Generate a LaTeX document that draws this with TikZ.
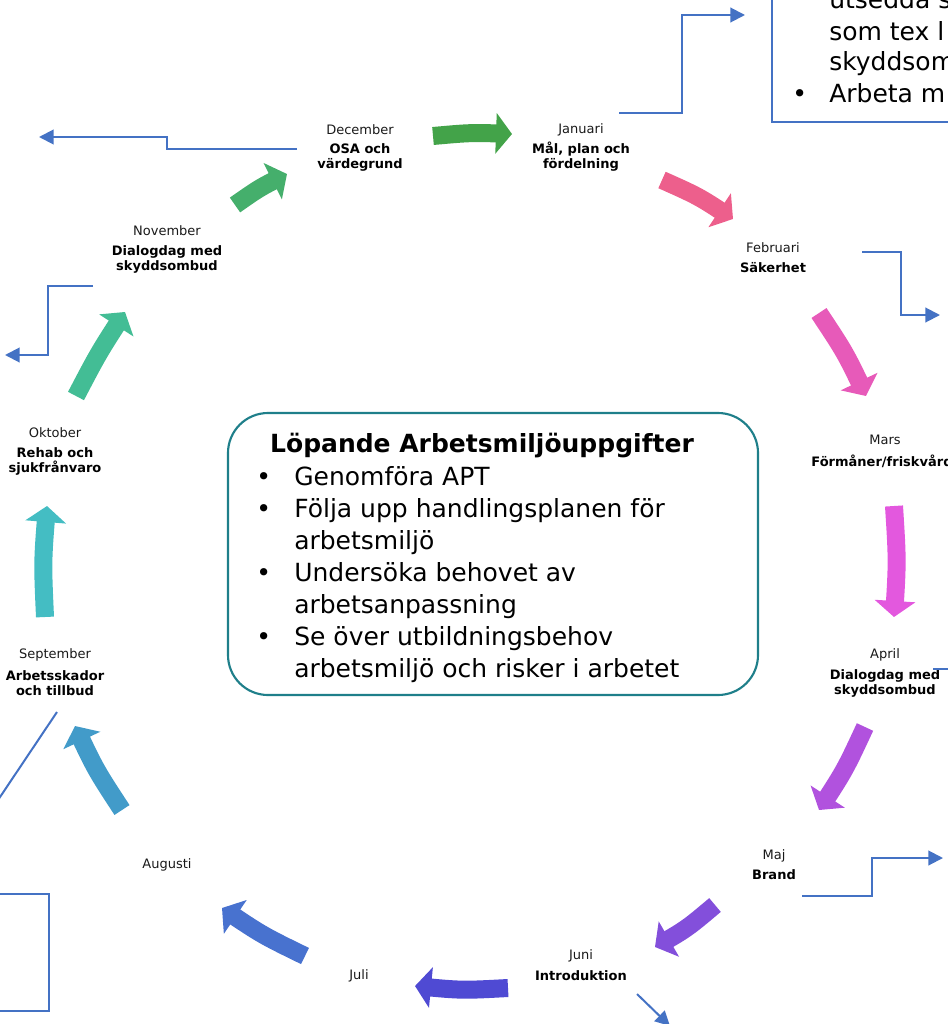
\documentclass[tikz,border=0pt]{standalone}
\usepackage{fontspec}
\setmainfont{DejaVu Sans}
\usetikzlibrary{arrows.meta,bending}
\definecolor{cDJ}{HTML}{43A349}
\definecolor{cND}{HTML}{45AF6C}
\definecolor{cON}{HTML}{43BD95}
\definecolor{cSO}{HTML}{44BDC3}
\definecolor{cAS}{HTML}{429BC9}
\definecolor{cJA}{HTML}{4872CF}
\definecolor{cJJ}{HTML}{4F4AD3}
\definecolor{cMJ}{HTML}{834FDB}
\definecolor{cAM}{HTML}{B152DE}
\definecolor{cMA}{HTML}{E358DE}
\definecolor{cFM}{HTML}{E75AB9}
\definecolor{cJF}{HTML}{ED5F8C}
\definecolor{lineblue}{HTML}{4472C4}
\definecolor{boxteal}{HTML}{1F7F8A}
\tikzset{
  barrow/.style={line width=13.5pt, -{Triangle[length=12pt,width=30pt]}},
  conn/.style={draw=lineblue, line width=1.5pt},
  connarrow/.style={conn, -{Triangle[length=11pt,width=11pt]}},
  mon/.style={font=\fontsize{9.75}{11.5}\selectfont, inner sep=0pt, text=black!90},
  topic/.style={font=\fontsize{9.75}{11.2}\selectfont\bfseries, align=center, inner sep=0pt},
  big/.style={font=\fontsize{18.75}{24}\selectfont, inner sep=0pt}
}
\begin{document}
\begin{tikzpicture}[x=0.75pt,y=-0.75pt]
\useasboundingbox (0,0) rectangle (948,1024);
\clip (0,0) rectangle (948,1024);

% ---- month labels ----
\node[mon] (m-dec) at (360,130) {December};
\node[topic] (t-dec) at (360,157) {OSA och\\värdegrund};
\node[mon] (m-jan) at (581,130) {Januari};
\node[topic] (t-jan) at (581,157) {Mål, plan och\\fördelning};
\node[mon] (m-feb) at (773,248) {Februari};
\node[topic] (t-feb) at (773,268) {Säkerhet};
\node[mon] (m-mar) at (885,440) {Mars};
\node[topic] (t-mar) at (882,461) {Förmåner/friskvård};
\node[mon] (m-apr) at (885,655) {April};
\node[topic] (t-apr) at (885,683) {Dialogdag med\\skyddsombud};
\node[mon] (m-maj) at (774,856) {Maj};
\node[topic] (t-maj) at (774,875) {Brand};
\node[mon] (m-jun) at (581,956) {Juni};
\node[topic] (t-jun) at (581,976) {Introduktion};
\node[mon] (m-jul) at (359,976) {Juli};
\node[mon] (m-aug) at (167,865) {Augusti};
\node[mon] (m-sep) at (55,655) {September};
\node[topic] (t-sep) at (55,683) {Arbetsskador\\och tillbud};
\node[mon] (m-okt) at (55,433) {Oktober};
\node[topic] (t-okt) at (55,461) {Rehab och\\sjukfrånvaro};
\node[mon] (m-nov) at (167,231) {November};
\node[topic] (t-nov) at (167,259) {Dialogdag med\\skyddsombud};

% ---- block arrows ----
\coordinate (a1s) at (433,136);  \coordinate (a1e) at (512,134);
\coordinate (a2s) at (662,180);  \coordinate (a2e) at (733,219);
\coordinate (a3s) at (819,313);  \coordinate (a3e) at (866,396);
\coordinate (a4s) at (894,506);  \coordinate (a4e) at (894,617);
\coordinate (a5s) at (865,727);  \coordinate (a5e) at (819,810);
\coordinate (a6s) at (715,905);  \coordinate (a6e) at (655,947);
\coordinate (a7s) at (508,988);  \coordinate (a7e) at (415,986);
\coordinate (a8s) at (305,956);  \coordinate (a8e) at (222,908);
\coordinate (a9s) at (122,810);  \coordinate (a9e) at (75,726);
\coordinate (a10s) at (45,617);  \coordinate (a10e) at (47,506);
\coordinate (a11s) at (76,396);  \coordinate (a11e) at (125,312);
\coordinate (a12s) at (235,205); \coordinate (a12e) at (287,174);

\draw[barrow, cDJ] (a1s) .. controls (472,132.5) .. (a1e);
\draw[barrow, cJF] (a2s) .. controls (699,196.5) .. (a2e);
\draw[barrow, cFM] (a3s) .. controls (845.5,353) .. (a3e);
\draw[barrow, cMA] (a4s) .. controls (897.5,561.5) .. (a4e);
\draw[barrow, cAM] (a5s) .. controls (845,770) .. (a5e);
\draw[barrow, cMJ] (a6s) .. controls (686.5,929) .. (a6e);
\draw[barrow, cJJ] (a7s) .. controls (461.5,990.5) .. (a7e);
\draw[barrow, cJA] (a8s) .. controls (262,935) .. (a8e);
\draw[barrow, cAS] (a9s) .. controls (95.5,769.5) .. (a9e);
\draw[barrow, cSO] (a10s) .. controls (42.5,561.5) .. (a10e);
\draw[barrow, cON] (a11s) .. controls (98.5,353) .. (a11e);
\draw[barrow, cND] (a12s) .. controls (260,187.5) .. (a12e);

% ---- centre box ----
\draw[boxteal, line width=1.6pt, rounded corners=30pt] (228,413) rectangle (758,695);
\node[big, font=\fontsize{18.75}{24}\selectfont\bfseries, anchor=base] (title) at (482,452) {Löpande Arbetsmiljöuppgifter};
\node[big, anchor=base west] (list) at (256,485) {%
\begin{tabular}[t]{@{}p{28.5pt}@{}l@{}}
• & Genomföra APT\\
• & Följa upp handlingsplanen för\\
  & arbetsmiljö\\
• & Undersöka behovet av\\
  & arbetsanpassning\\
• & Se över utbildningsbehov\\
  & arbetsmiljö och risker i arbetet
\end{tabular}};

% ---- partial boxes at the edges ----
\draw[conn] (772,-10) rectangle (960,122);
\node[big, anchor=base west] (tr1) at (829,9) {utsedda s};
\node[big, anchor=base west] (tr2) at (829,41) {som tex l};
\node[big, anchor=base west] (tr3) at (829,71) {skyddsom};
\node[big, anchor=base west] (tr4b) at (792,103) {•};
\node[big, anchor=base west] (tr4) at (829,103) {Arbeta m};
\draw[conn] (-10,894) rectangle (49,1011);

% ---- blue connectors ----
\coordinate (c1s) at (619,113);  \coordinate (c1e) at (745,15);
\draw[connarrow] (c1s) -- (682,113) -- (682,15) -- (c1e);
\coordinate (c2s) at (297,149);  \coordinate (c2e) at (39,137);
\draw[connarrow] (c2s) -- (167,149) -- (167,137) -- (c2e);
\coordinate (c3s) at (93,286);   \coordinate (c3e) at (5,355);
\draw[connarrow] (c3s) -- (48,286) -- (48,355) -- (c3e);
\coordinate (c4s) at (862,252);  \coordinate (c4e) at (940,315);
\draw[connarrow] (c4s) -- (901,252) -- (901,315) -- (c4e);
\coordinate (c5s) at (933,669);  \coordinate (c5e) at (960,669);
\draw[conn] (c5s) -- (c5e);
\coordinate (c6s) at (802,896);  \coordinate (c6e) at (943,858);
\draw[connarrow] (c6s) -- (872,896) -- (872,858) -- (c6e);
\coordinate (c7s) at (637,994);  \coordinate (c7e) at (670,1026);
\draw[connarrow] (c7s) -- (c7e);
\coordinate (c8s) at (57,712);   \coordinate (c8e) at (-6,806);
\draw[conn] (c8s) -- (c8e);
\end{tikzpicture}
\end{document}
